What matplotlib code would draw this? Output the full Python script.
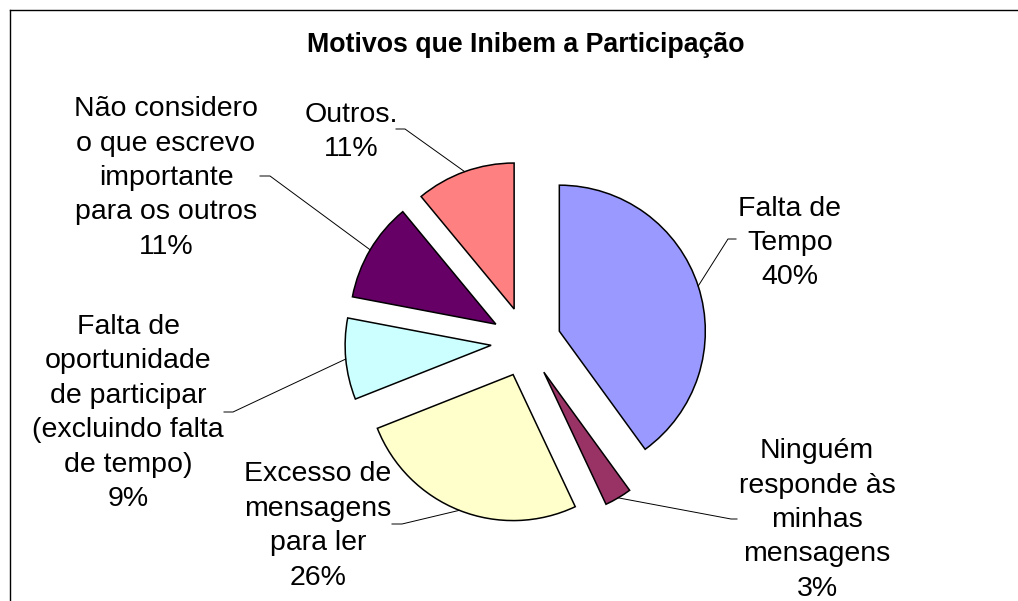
import numpy as np
import matplotlib
matplotlib.use("Agg")
import matplotlib.pyplot as plt
from matplotlib.lines import Line2D

plt.rcParams['font.family'] = ['Liberation Sans', 'DejaVu Sans']

# ---- data ----
title = "Motivos que Inibem a Participação"
categories = [
    "Falta de\nTempo",
    "Ninguém\nresponde às\nminhas\nmensagens",
    "Excesso de\nmensagens\npara ler",
    "Falta de\noportunidade\nde participar\n(excluindo falta\nde tempo)",
    "Não considero\no que escrevo\nimportante\npara os outros",
    "Outros.",
]
percents = [40, 3, 26, 9, 11, 11]
colors = ["#9999FF", "#993366", "#FFFFCC", "#CCFFFF", "#660066", "#FF8080"]

# ---- layout (pixels of the 1018x601 picture) ----
W, H = 1018, 601
CX, CY, R = 526, 342, 146          # pie centre / radius in pixels


def px(x, y):
    """pixel position (y from top) -> data coords of the pie axes"""
    return (x - CX) / R, (CY - y) / R


# label centre, elbow of leader line, end of leader line (pixels)
label_pos = [(790, 243), (817, 520), (318, 526), (128, 413), (166, 178), (351, 132)]
elbows = [(728, 239), (731, 519), (402, 524), (233, 412), (270, 176), (405, 129)]
ends = [(736, 239), (737, 519), (392, 524), (224, 412), (260, 176), (396, 129)]

fig = plt.figure(figsize=(W / 100, H / 100), dpi=100)
ax = fig.add_axes([0, 0, 1, 1])

wedges, _ = ax.pie(
    percents, colors=colors, startangle=90, counterclock=False,
    explode=[0.24] * len(percents), radius=1,
    wedgeprops=dict(edgecolor="black", linewidth=1.1),
)
ax.set_aspect("auto")
ax.set_xlim((0 - CX) / R, (W - CX) / R)
ax.set_ylim((CY - H) / R, CY / R)
ax.axis("off")

for w, cat, p, lp, el, en in zip(wedges, categories, percents, label_pos, elbows, ends):
    # leader line from the middle of the arc
    mid = np.deg2rad((w.theta1 + w.theta2) / 2)
    ax0 = w.center[0] + w.r * np.cos(mid)
    ay0 = w.center[1] + w.r * np.sin(mid)
    e1 = px(*el)
    e2 = px(*en)
    ax.plot([ax0, e1[0], e2[0]], [ay0, e1[1], e2[1]], color="black", lw=0.7)
    tx, ty = px(*lp)
    ax.text(tx, ty, f"{cat}\n{p}%", ha="center", va="center",
            fontsize=20.5, linespacing=1.42)

fig.text(CX / W, 1 - 45 / H, title, ha="center", va="center",
         fontsize=19.3, fontweight="bold")

# chart border (runs off the right and bottom of the picture)
fig.add_artist(Line2D([10 / W, 1.01], [1 - 10 / H, 1 - 10 / H], color="black", lw=1))
fig.add_artist(Line2D([10 / W, 10 / W], [1 - 10 / H, -0.01], color="black", lw=1))

fig.savefig("out.png", dpi=100)
